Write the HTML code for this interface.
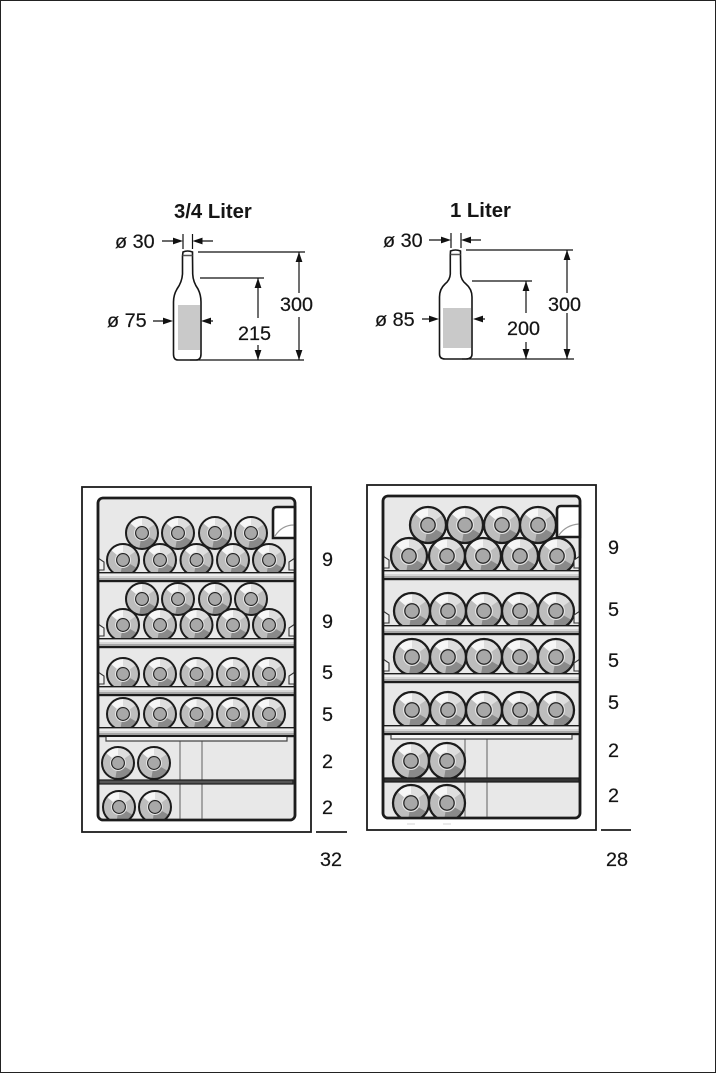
<!DOCTYPE html>
<html><head><meta charset="utf-8"><style>
html,body{margin:0;padding:0;background:#fff}
svg{display:block}
text{font-family:"Liberation Sans",sans-serif;font-size:19.8px;fill:#151515;stroke:#151515;stroke-width:.2px}
.t{font-weight:bold;font-size:20.3px;stroke:none}
</style></head><body>
<svg width="716" height="1073" viewBox="0 0 716 1073" xmlns="http://www.w3.org/2000/svg">
<defs>
<g id="b">
<circle r="1" fill="#bdbdbd"/>
<path d="M0 0L-.77 -.64A1 1 0 0 1 0 -1Z" fill="#f6f6f6"/>
<path d="M0 0L0 -1A1 1 0 0 1 .82 -.57Z" fill="#dedede"/>
<path d="M0 0L.87 .5A1 1 0 0 1 -.17 .98Z" fill="#8a8a8a"/>
<circle r=".5" fill="#e4e4e4"/>
<circle r=".4" fill="#a8a8a8" stroke="#222" stroke-width=".07"/>
<circle r="1" fill="none" stroke="#1c1c1c" stroke-width=".125"/>
</g>
<g id="ar"><path d="M0 0L-10 -3.400V3.400Z" fill="#111"/></g>
<g id="sh">
<rect x="0" y="0" width="197" height="8" fill="#d6d6d6"/>
<rect x="0" y="1" width="197" height="2" fill="#f0f0f0"/>
<rect x="0" y="5" width="197" height="2" fill="#a6a6a6"/>
<rect x="0" y="7" width="197" height="2.200" fill="#1c1c1c"/>
<rect x="0" y="-1" width="197" height="1.300" fill="#1c1c1c"/>
</g>
<g id="clip" fill="#f0f0f0" stroke="#333" stroke-width="1.100">
<path d="M0 -15L6 -11V-3H0"/><path d="M197 -15L191 -11V-3H197"/>
</g>
<clipPath id="c1"><rect x="98" y="740" width="197" height="80"/></clipPath>
<clipPath id="c2"><rect x="383" y="740" width="197" height="78"/></clipPath>
</defs>
<rect x="0.5" y="0.5" width="715" height="1072" fill="#fff" stroke="#222"/>

<!-- Left bottle -->
<text class="t" x="174" y="218">3/4 Liter</text>
<text x="115" y="248">ø 30</text>
<path d="M183 234V249M192.500 234V249M162 241H175M200 241H213M198 252H305M200 278H264M190 360H304M299 252V293M299 317V360M258 278V318M258 345V360M153 321H165M205 321H213" stroke="#111" stroke-width="1.200" fill="none"/>
<use href="#ar" transform="translate(183 241)"/>
<use href="#ar" transform="translate(192.500 241) rotate(180)"/>
<use href="#ar" transform="translate(299 252) rotate(-90)"/>
<use href="#ar" transform="translate(299 360) rotate(90)"/>
<use href="#ar" transform="translate(258 278) rotate(-90)"/>
<use href="#ar" transform="translate(258 360) rotate(90)"/>
<use href="#ar" transform="translate(173 321)"/>
<use href="#ar" transform="translate(201 321) rotate(180)"/>
<rect x="178" y="305" width="22" height="45" fill="#c9c9c9"/>
<path d="M183 252Q187.500 250 192.500 252V256L192.700 274Q193 282 198 289Q201 295 201 302V354Q201 360 196 360H178Q173.500 360 173.500 354V302Q173.500 295 177 289Q182 282 182.500 274V256Z" fill="none" stroke="#151515" stroke-width="1.600"/>
<path d="M182.500 255.500H192.500" stroke="#555" stroke-width="1.500"/>
<text x="107" y="327">ø 75</text>
<text x="280" y="311">300</text>
<text x="238" y="340">215</text>

<!-- Right bottle -->
<text class="t" x="450" y="217">1 Liter</text>
<text x="383" y="247">ø 30</text>
<path d="M451 233V248M461 233V248M429 240H442M470 240H481M466 250H573M472 281H532M462 359H574M567 250V293M567 313V359M526 281V313M526 342V359M422 319H431M480 319H485" stroke="#111" stroke-width="1.200" fill="none"/>
<use href="#ar" transform="translate(451 240)"/>
<use href="#ar" transform="translate(461 240) rotate(180)"/>
<use href="#ar" transform="translate(567 250) rotate(-90)"/>
<use href="#ar" transform="translate(567 359) rotate(90)"/>
<use href="#ar" transform="translate(526 281) rotate(-90)"/>
<use href="#ar" transform="translate(526 359) rotate(90)"/>
<use href="#ar" transform="translate(439 319)"/>
<use href="#ar" transform="translate(473 319) rotate(180)"/>
<rect x="443" y="308" width="28" height="40" fill="#c9c9c9"/>
<path d="M450.500 251Q455.500 249 460.500 251V255L460.700 274Q461 280 466 284Q472 289 472 297V354Q472 359 466 359H445Q439.500 359 439.500 354V297Q439.500 289 445 284Q450 280 450.300 274V255Z" fill="none" stroke="#151515" stroke-width="1.600"/>
<path d="M450.500 254.500H460.500" stroke="#555" stroke-width="1.500"/>
<text x="375" y="326">ø 85</text>
<text x="548" y="311">300</text>
<text x="507" y="335">200</text>

<!-- Left cabinet -->
<rect x="82" y="487" width="229" height="345" fill="#fff" stroke="#1c1c1c" stroke-width="1.800"/>
<rect x="98" y="498" width="197" height="322" rx="5" fill="#e8e8e8" stroke="#1c1c1c" stroke-width="2.600"/>
<path d="M180 740V820M202 740V820" stroke="#777" stroke-width="1.200"/>
<path d="M273 538V511Q273 507 277 507H295V538Z" fill="#fff" stroke="#1c1c1c" stroke-width="2.600"/>
<path d="M275 536Q282 525 294 525" fill="none" stroke="#999" stroke-width="1.200"/>
<use href="#b" transform="translate(142 533) scale(16)"/><use href="#b" transform="translate(178 533) scale(16)"/><use href="#b" transform="translate(215 533) scale(16)"/><use href="#b" transform="translate(251 533) scale(16)"/>
<use href="#b" transform="translate(123 560) scale(16)"/><use href="#b" transform="translate(160 560) scale(16)"/><use href="#b" transform="translate(196.500 560) scale(16)"/><use href="#b" transform="translate(233 560) scale(16)"/><use href="#b" transform="translate(269 560) scale(16)"/>
<use href="#sh" transform="translate(98 573)"/><use href="#clip" transform="translate(98 573)"/>
<use href="#b" transform="translate(142 599) scale(16)"/><use href="#b" transform="translate(178 599) scale(16)"/><use href="#b" transform="translate(215 599) scale(16)"/><use href="#b" transform="translate(251 599) scale(16)"/>
<use href="#b" transform="translate(123 625) scale(16)"/><use href="#b" transform="translate(160 625) scale(16)"/><use href="#b" transform="translate(196.500 625) scale(16)"/><use href="#b" transform="translate(233 625) scale(16)"/><use href="#b" transform="translate(269 625) scale(16)"/>
<use href="#sh" transform="translate(98 639)"/><use href="#clip" transform="translate(98 639)"/>
<use href="#b" transform="translate(123 674) scale(16)"/><use href="#b" transform="translate(160 674) scale(16)"/><use href="#b" transform="translate(196.500 674) scale(16)"/><use href="#b" transform="translate(233 674) scale(16)"/><use href="#b" transform="translate(269 674) scale(16)"/>
<use href="#sh" transform="translate(98 687)"/><use href="#clip" transform="translate(98 687)"/>
<use href="#b" transform="translate(123 714) scale(16)"/><use href="#b" transform="translate(160 714) scale(16)"/><use href="#b" transform="translate(196.500 714) scale(16)"/><use href="#b" transform="translate(233 714) scale(16)"/><use href="#b" transform="translate(269 714) scale(16)"/>
<use href="#sh" transform="translate(98 728)"/>
<path d="M106 737V741H287V737" fill="#f4f4f4" stroke="#444" stroke-width="1.200"/>
<use href="#b" transform="translate(118 763) scale(16)"/><use href="#b" transform="translate(154 763) scale(16)"/>
<rect x="99" y="780" width="194" height="4" fill="#555" stroke="#1c1c1c" stroke-width="1.200"/>
<g clip-path="url(#c1)"><use href="#b" transform="translate(119 807) scale(16)"/><use href="#b" transform="translate(155 807) scale(16)"/></g>
<rect x="98" y="498" width="197" height="322" rx="5" fill="none" stroke="#1c1c1c" stroke-width="2.600"/>
<text x="322" y="566">9</text><text x="322" y="628">9</text><text x="322" y="679">5</text><text x="322" y="721">5</text><text x="322" y="768">2</text><text x="322" y="814">2</text>
<path d="M316 832H347" stroke="#1c1c1c" stroke-width="1.800"/>
<text x="320" y="866">32</text>

<!-- Right cabinet -->
<rect x="367" y="485" width="229" height="345" fill="#fff" stroke="#1c1c1c" stroke-width="1.800"/>
<rect x="383" y="496" width="197" height="322" rx="5" fill="#e8e8e8" stroke="#1c1c1c" stroke-width="2.600"/>
<path d="M465 738V818M487 738V818" stroke="#777" stroke-width="1.200"/>
<use href="#b" transform="translate(428 525) scale(18)"/><use href="#b" transform="translate(465 525) scale(18)"/><use href="#b" transform="translate(502 525) scale(18)"/><use href="#b" transform="translate(538 525) scale(18)"/>
<path d="M557 537V510Q557 506 561 506H580V537Z" fill="#fff" stroke="#1c1c1c" stroke-width="2.600"/>
<path d="M559 535Q566 525 579 524" fill="none" stroke="#999" stroke-width="1.200"/>
<use href="#b" transform="translate(409 556) scale(18)"/><use href="#b" transform="translate(447 556) scale(18)"/><use href="#b" transform="translate(483 556) scale(18)"/><use href="#b" transform="translate(520 556) scale(18)"/><use href="#b" transform="translate(557 556) scale(18)"/>
<use href="#sh" transform="translate(383 571)"/><use href="#clip" transform="translate(383 571)"/>
<use href="#b" transform="translate(412 611) scale(18)"/><use href="#b" transform="translate(448 611) scale(18)"/><use href="#b" transform="translate(484 611) scale(18)"/><use href="#b" transform="translate(520 611) scale(18)"/><use href="#b" transform="translate(556 611) scale(18)"/>
<use href="#sh" transform="translate(383 626)"/><use href="#clip" transform="translate(383 626)"/>
<use href="#b" transform="translate(412 657) scale(18)"/><use href="#b" transform="translate(448 657) scale(18)"/><use href="#b" transform="translate(484 657) scale(18)"/><use href="#b" transform="translate(520 657) scale(18)"/><use href="#b" transform="translate(556 657) scale(18)"/>
<use href="#sh" transform="translate(383 674)"/><use href="#clip" transform="translate(383 674)"/>
<use href="#b" transform="translate(412 710) scale(18)"/><use href="#b" transform="translate(448 710) scale(18)"/><use href="#b" transform="translate(484 710) scale(18)"/><use href="#b" transform="translate(520 710) scale(18)"/><use href="#b" transform="translate(556 710) scale(18)"/>
<use href="#sh" transform="translate(383 726)"/>
<path d="M391 735V739H572V735" fill="#f4f4f4" stroke="#444" stroke-width="1.200"/>
<use href="#b" transform="translate(411 761) scale(18)"/><use href="#b" transform="translate(447 761) scale(18)"/>
<rect x="384" y="778" width="195" height="4" fill="#333" stroke="#1c1c1c" stroke-width="1.200"/>
<g clip-path="url(#c2)"><use href="#b" transform="translate(411 803) scale(18)"/><use href="#b" transform="translate(447 803) scale(18)"/></g>
<rect x="383" y="496" width="197" height="322" rx="5" fill="none" stroke="#1c1c1c" stroke-width="2.600"/>
<path d="M407 824H415M443 824H451" stroke="#ddd" stroke-width="1.200"/>
<text x="608" y="554">9</text><text x="608" y="616">5</text><text x="608" y="667">5</text><text x="608" y="709">5</text><text x="608" y="757">2</text><text x="608" y="802">2</text>
<path d="M601 830H631" stroke="#1c1c1c" stroke-width="1.800"/>
<text x="606" y="866">28</text>
</svg>
</body></html>
